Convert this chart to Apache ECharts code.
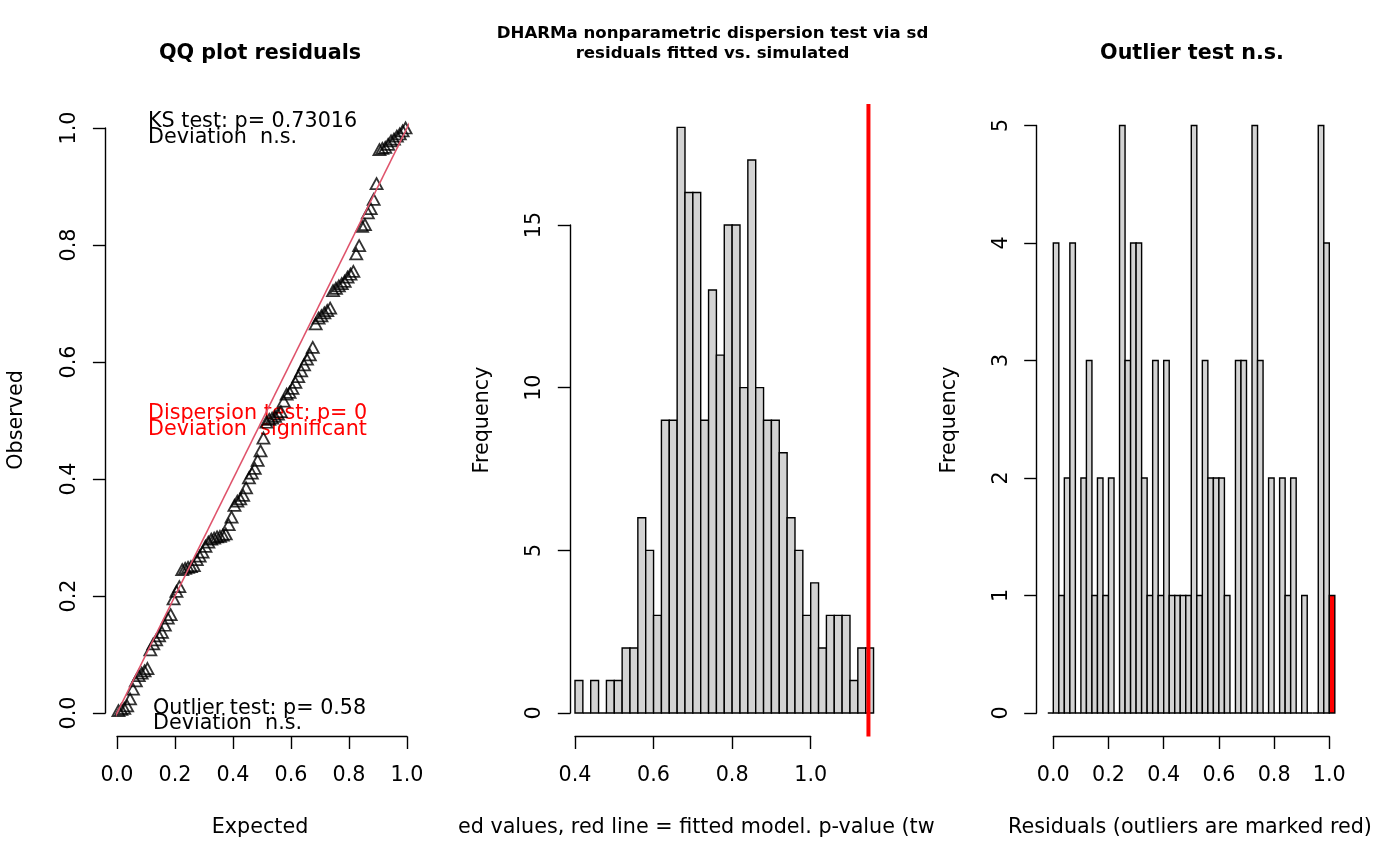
<!DOCTYPE html>
<html>
<head>
<meta charset="utf-8">
<title>DHARMa residual diagnostics</title>
<script src="https://cdn.jsdelivr.net/npm/echarts@6/dist/echarts.min.js"></script>
<style>
  html, body { margin: 0; padding: 0; background: #fff; }
  #page { position: relative; width: 1400px; height: 866px; overflow: hidden; }
  .panel { position: absolute; top: 0; height: 866px; }
  #qq { left: 0; width: 467px; }
  #disp { left: 459px; width: 476px; }
  #outl { left: 933px; width: 467px; }
</style>
</head>
<body>
<div id="page">
  <div id="qq" class="panel"></div>
  <div id="disp" class="panel"></div>
  <div id="outl" class="panel"></div>
</div>
<script>
// QQ plot: expected uniform quantiles vs sorted scaled residuals (n = 100)
var qqExpected = [
  0.005, 0.015, 0.025, 0.035, 0.045, 0.055, 0.065, 0.075, 0.085, 0.095,
  0.105, 0.115, 0.125, 0.135, 0.145, 0.155, 0.165, 0.175, 0.185, 0.195,
  0.205, 0.215, 0.225, 0.235, 0.245, 0.255, 0.265, 0.275, 0.285, 0.295,
  0.305, 0.315, 0.325, 0.335, 0.345, 0.355, 0.365, 0.375, 0.385, 0.395,
  0.405, 0.415, 0.425, 0.435, 0.445, 0.455, 0.465, 0.475, 0.485, 0.495,
  0.505, 0.515, 0.525, 0.535, 0.545, 0.555, 0.565, 0.575, 0.585, 0.595,
  0.605, 0.615, 0.625, 0.635, 0.645, 0.655, 0.665, 0.675, 0.685, 0.695,
  0.705, 0.715, 0.725, 0.735, 0.745, 0.755, 0.765, 0.775, 0.785, 0.795,
  0.805, 0.815, 0.825, 0.835, 0.845, 0.855, 0.865, 0.875, 0.885, 0.895,
  0.905, 0.915, 0.925, 0.935, 0.945, 0.955, 0.965, 0.975, 0.985, 0.995
];
var qqObserved = [
  0.004, 0.006, 0.008, 0.012, 0.024, 0.041, 0.055, 0.064, 0.068, 0.072,
  0.076, 0.108, 0.118, 0.125, 0.132, 0.138, 0.150, 0.162, 0.168, 0.195,
  0.208, 0.216, 0.245, 0.247, 0.249, 0.250, 0.252, 0.262, 0.268, 0.275,
  0.285, 0.292, 0.297, 0.299, 0.301, 0.302, 0.304, 0.306, 0.322, 0.335,
  0.355, 0.362, 0.366, 0.372, 0.385, 0.402, 0.410, 0.418, 0.432, 0.448,
  0.470, 0.497, 0.502, 0.504, 0.507, 0.511, 0.515, 0.533, 0.545, 0.548,
  0.555, 0.565, 0.575, 0.585, 0.595, 0.605, 0.612, 0.625, 0.665, 0.675,
  0.679, 0.684, 0.688, 0.692, 0.722, 0.726, 0.730, 0.734, 0.738, 0.745,
  0.750, 0.755, 0.785, 0.799, 0.832, 0.835, 0.855, 0.862, 0.878, 0.905,
  0.963, 0.965, 0.967, 0.972, 0.978, 0.981, 0.986, 0.990, 0.995, 1.000
];
// 1:1 reference line across the plot region
var qqLine = [[-0.04, -0.04], [1.04, 1.04]];

// dispersion test: sd of simulated residuals, histogram breaks and counts (nSim = 250)
var simBreaks = [
  0.40, 0.42, 0.44, 0.46, 0.48, 0.50, 0.52, 0.54, 0.56, 0.58,
  0.60, 0.62, 0.64, 0.66, 0.68, 0.70, 0.72, 0.74, 0.76, 0.78,
  0.80, 0.82, 0.84, 0.86, 0.88, 0.90, 0.92, 0.94, 0.96, 0.98,
  1.00, 1.02, 1.04, 1.06, 1.08, 1.10, 1.12, 1.14, 1.16
];
var simCounts = [
  1, 0, 1, 0, 1, 1, 2, 2, 6, 5,
  3, 9, 9, 18, 16, 16, 9, 13, 11, 15,
  15, 10, 17, 10, 9, 9, 8, 6, 5, 3,
  4, 2, 3, 3, 3, 1, 2, 2
];
var observedSD = 1.147;

// outlier test: histogram of scaled residuals, first and last bins are the outlier bins
var resBreaks = [
  -0.02, 0.00, 0.02, 0.04, 0.06, 0.08, 0.10, 0.12, 0.14, 0.16,
  0.18, 0.20, 0.22, 0.24, 0.26, 0.28, 0.30, 0.32, 0.34, 0.36,
  0.38, 0.40, 0.42, 0.44, 0.46, 0.48, 0.50, 0.52, 0.54, 0.56,
  0.58, 0.60, 0.62, 0.64, 0.66, 0.68, 0.70, 0.72, 0.74, 0.76,
  0.78, 0.80, 0.82, 0.84, 0.86, 0.88, 0.90, 0.92, 0.94, 0.96,
  0.98, 1.00, 1.02
];
var resCounts = [
  0, 4, 1, 2, 4, 0, 2, 3, 1, 2,
  1, 2, 0, 5, 3, 4, 4, 2, 1, 3,
  1, 3, 1, 1, 1, 1, 5, 1, 3, 2,
  2, 2, 1, 0, 3, 3, 0, 5, 3, 0,
  2, 0, 2, 1, 2, 0, 1, 0, 0, 5,
  4, 1
];

var FONT = 'DejaVu Sans';
var FS = 20.7;

function toBins(breaks, counts) {
  return counts.map(function (c, i) { return [breaks[i], breaks[i + 1], c]; });
}

function xAxisOpt(min, max, interval, digits) {
  return {
    type: 'value', min: min, max: max, interval: interval, offset: 23.5,
    splitLine: { show: false },
    axisLine: { show: true, onZero: false, lineStyle: { color: '#000', width: 1.4 } },
    axisTick: { show: true, length: 12.5, lineStyle: { color: '#000', width: 1.4 } },
    axisLabel: {
      margin: 29, color: '#000', fontFamily: FONT, fontSize: FS,
      formatter: function (v) { return v.toFixed(digits); }
    }
  };
}

function yAxisOpt(min, max, interval, digits, offset) {
  return {
    type: 'value', min: min, max: max, interval: interval, offset: offset,
    splitLine: { show: false },
    axisLine: { show: true, onZero: false, lineStyle: { color: '#000', width: 1.4 } },
    axisTick: { show: true, length: 12.5, lineStyle: { color: '#000', width: 1.4 } },
    axisLabel: {
      margin: 25, rotate: 90, color: '#000', fontFamily: FONT, fontSize: FS,
      formatter: function (v) { return v.toFixed(digits); }
    }
  };
}

function txt(text, x, y, o) {
  o = o || {};
  return {
    type: 'text', x: x, y: y, rotation: o.rotation || 0, silent: true,
    style: {
      text: text, fill: o.color || '#000',
      fontFamily: FONT, fontSize: o.size || FS, fontWeight: o.bold ? 'bold' : 'normal',
      align: o.align || 'center', verticalAlign: 'middle',
      textAlign: o.align || 'center', textVerticalAlign: 'middle'
    }
  };
}

function histSeries(bins, fillFor) {
  return {
    type: 'custom', data: bins, silent: true, clip: false,
    encode: { x: [0, 1], y: 2 },
    renderItem: function (params, api) {
      var tl = api.coord([api.value(0), api.value(2)]);
      var br = api.coord([api.value(1), 0]);
      return {
        type: 'rect',
        shape: { x: tl[0], y: tl[1], width: br[0] - tl[0], height: br[1] - tl[1] },
        style: { fill: fillFor(params.dataIndex), stroke: '#000', lineWidth: 1.4 }
      };
    }
  };
}

// ---- QQ plot ----
var qqChart = echarts.init(document.getElementById('qq'));
qqChart.setOption({
  animation: false,
  grid: { left: 117, top: 128, width: 290, height: 585 },
  xAxis: xAxisOpt(0, 1, 0.2, 1),
  yAxis: yAxisOpt(0, 1, 0.2, 1, 11.6),
  series: [
    {
      type: 'scatter', silent: true, clip: false,
      data: qqExpected.map(function (e, i) { return [e, qqObserved[i]]; }),
      symbol: 'triangle', symbolSize: [12, 11],
      itemStyle: { color: 'rgba(0,0,0,0)', borderColor: '#000', borderWidth: 1.8 }
    },
    {
      type: 'line', silent: true, clip: false, z: 3, data: qqLine, symbol: 'none',
      lineStyle: { color: '#DF536B', width: 1.6 }
    }
  ],
  graphic: [
    txt('QQ plot residuals', 260, 54, { bold: true }),
    txt('KS test: p= 0.73016', 148, 122, { align: 'left' }),
    txt('Deviation  n.s.', 148, 138, { align: 'left' }),
    txt('Dispersion test: p= 0', 148, 414, { align: 'left', color: '#FF0000' }),
    txt('Deviation  significant', 148, 430, { align: 'left', color: '#FF0000' }),
    txt('Outlier test: p= 0.58', 153, 709, { align: 'left' }),
    txt('Deviation  n.s.', 153, 724, { align: 'left' }),
    txt('Expected', 260, 828),
    txt('Observed', 17, 420, { rotation: Math.PI / 2 })
  ]
});

// ---- dispersion test ----
var dispChart = echarts.init(document.getElementById('disp'));
dispChart.setOption({
  animation: false,
  grid: { left: 116, top: 225, width: 235.7, height: 488 },
  xAxis: xAxisOpt(0.4, 1.0, 0.2, 1),
  yAxis: yAxisOpt(0, 15, 5, 0, 4.7),
  series: [
    histSeries(toBins(simBreaks, simCounts), function () { return '#D3D3D3'; }),
    {
      type: 'custom', silent: true, clip: false, z: 3,
      data: [[observedSD]],
      encode: { x: 0 },
      renderItem: function (params, api) {
        var top = api.coord([api.value(0), 18.72]);
        var bottom = api.coord([api.value(0), -0.72]);
        return {
          type: 'line',
          shape: { x1: top[0], y1: top[1], x2: bottom[0], y2: bottom[1] },
          style: { stroke: '#FF0000', lineWidth: 4 }
        };
      }
    }
  ],
  graphic: [
    txt('DHARMa nonparametric dispersion test via sd', 253.5, 34, { bold: true, size: 16.6 }),
    txt('residuals fitted vs. simulated', 253.5, 54, { bold: true, size: 16.6 }),
    txt('Simulated values, red line = fitted model. p-value (two.sided) = 0', 261, 828),
    txt('Frequency', 24, 420, { rotation: Math.PI / 2 })
  ]
});

// ---- outlier test ----
var outlChart = echarts.init(document.getElementById('outl'));
var lastBin = resCounts.length - 1;
outlChart.setOption({
  animation: false,
  grid: { left: 120.3, top: 125.5, width: 276, height: 587.5 },
  xAxis: xAxisOpt(0, 1, 0.2, 1),
  yAxis: yAxisOpt(0, 5, 1, 0, 16.6),
  series: [
    histSeries(toBins(resBreaks, resCounts), function (i) {
      return (i === 0 || i === lastBin) ? '#FF0000' : '#D3D3D3';
    })
  ],
  graphic: [
    txt('Outlier test n.s.', 259, 54, { bold: true }),
    txt('Residuals (outliers are marked red)', 257, 828),
    txt('Frequency', 17, 420, { rotation: Math.PI / 2 })
  ]
});
</script>
</body>
</html>
